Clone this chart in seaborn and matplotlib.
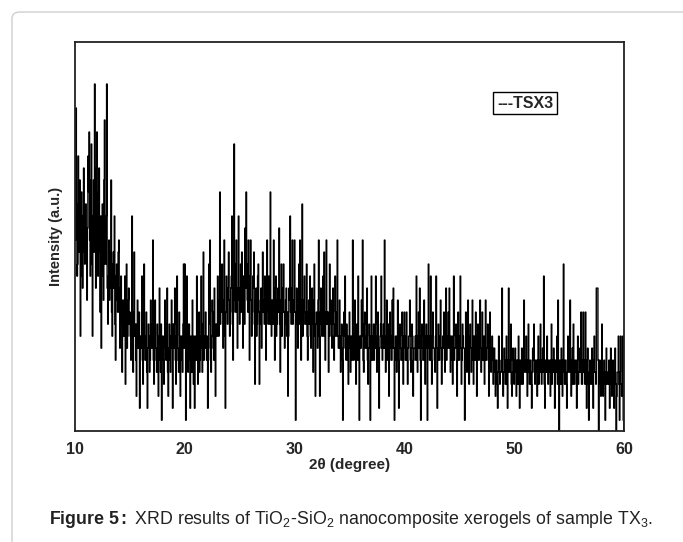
import numpy as np
import pandas as pd
import matplotlib
matplotlib.use("Agg")
import matplotlib.pyplot as plt
from matplotlib.patches import FancyBboxPatch
from matplotlib.ticker import MultipleLocator
import seaborn as sns

# scan grid of the diffractometer (2theta, degrees)
scan_start = 10.0
scan_step = 0.05

# intensity, one row per degree (arbitrary count levels)
intensity = [
    17, 15, 26, 18, 12, 13, 22, 16, 14, 20, 7, 12, 19, 17, 11, 14, 21, 16, 13, 18,   # 10
    18, 14, 10, 16, 22, 19, 24, 15, 12, 20, 23, 13, 7, 17, 20, 14, 28, 18, 11, 21,   # 11
    24, 16, 12, 19, 21, 14, 9, 17, 6, 12, 18, 15, 10, 20, 25, 13, 13, 17, 28, 11,    # 12
    8, 12, 15, 10, 11, 14, 20, 9, 7, 13, 14, 11, 17, 8, 5, 12, 13, 10, 9, 14,        # 13
    15, 9, 6, 11, 12, 8, 4, 10, 10, 7, 8, 12, 3, 9, 13, 6, 7, 10, 11, 8,             # 14
    9, 7, 5, 8, 17, 6, 4, 9, 14, 7, 8, 5, 2, 8, 10, 6, 6, 9, 1, 7,                   # 15
    7, 6, 12, 5, 3, 8, 13, 6, 5, 7, 9, 4, 1, 6, 8, 7, 4, 5, 10, 8,                   # 16
    6, 7, 15, 5, 3, 8, 10, 6, 5, 4, 8, 7, 2, 5, 11, 6, 4, 8, 0, 5,                   # 17
    7, 5, 3, 7, 10, 6, 5, 8, 11, 4, 2, 6, 8, 5, 4, 7, 10, 6, 1, 8,                   # 18
    6, 8, 11, 5, 3, 7, 12, 6, 5, 4, 9, 7, 2, 6, 7, 5, 4, 8, 13, 6,                   # 19
    13, 7, 0, 5, 12, 6, 4, 8, 8, 5, 1, 7, 6, 4, 10, 6, 3, 7, 1, 5,                   # 20
    7, 5, 12, 6, 3, 8, 9, 4, 5, 7, 12, 6, 4, 8, 14, 5, 6, 7, 9, 6,                   # 21
    5, 7, 1, 6, 13, 8, 15, 5, 4, 7, 10, 9, 6, 5, 11, 6, 2, 8, 8, 7,                  # 22
    12, 9, 7, 10, 19, 8, 9, 11, 13, 9, 6, 10, 15, 7, 1, 9, 12, 10, 8, 11,            # 23
    14, 10, 7, 9, 11, 12, 17, 8, 5, 11, 23, 10, 9, 13, 15, 9, 6, 11, 17, 10,         # 24
    8, 11, 13, 9, 14, 10, 6, 12, 12, 8, 16, 11, 19, 13, 10, 9, 15, 10, 5, 12,        # 25
    15, 10, 7, 9, 12, 11, 14, 8, 3, 10, 11, 7, 8, 12, 13, 9, 3, 8, 10, 11,           # 26
    6, 9, 14, 10, 9, 8, 12, 11, 5, 9, 15, 10, 8, 12, 11, 8, 19, 10, 7, 9,            # 27
    10, 8, 15, 9, 5, 11, 12, 7, 8, 10, 11, 9, 16, 8, 4, 10, 13, 7, 9, 11,            # 28
    13, 9, 6, 8, 10, 11, 7, 9, 2, 7, 11, 10, 17, 9, 8, 11, 15, 8, 9, 10,             # 29
    15, 9, 0, 8, 11, 10, 6, 9, 13, 8, 15, 10, 5, 9, 18, 7, 9, 10, 12, 8,             # 30
    8, 9, 13, 7, 5, 9, 10, 8, 12, 7, 6, 9, 11, 8, 4, 10, 13, 7, 2, 8,                # 31
    9, 8, 6, 10, 15, 7, 2, 9, 11, 8, 7, 10, 12, 7, 14, 9, 5, 8, 15, 9,               # 32
    8, 9, 4, 7, 13, 8, 10, 7, 6, 9, 11, 8, 5, 7, 12, 9, 7, 8, 15, 7,                 # 33
    6, 7, 10, 6, 4, 7, 8, 5, 0, 6, 9, 7, 12, 6, 5, 8, 7, 5, 3, 7,                    # 34
    9, 6, 4, 7, 7, 5, 15, 7, 5, 6, 10, 8, 3, 6, 8, 5, 12, 7, 0, 6,                   # 35
    7, 6, 10, 7, 15, 5, 4, 8, 9, 6, 6, 7, 11, 5, 3, 6, 8, 7, 0, 5,                   # 36
    12, 6, 5, 7, 8, 5, 6, 8, 12, 6, 4, 7, 9, 5, 1, 6, 7, 8, 12, 6,                   # 37
    5, 7, 8, 6, 15, 7, 4, 6, 10, 5, 6, 8, 2, 6, 9, 7, 5, 5, 10, 6,                   # 38
    11, 6, 0, 5, 7, 7, 4, 6, 10, 5, 1, 7, 8, 6, 5, 5, 9, 7, 3, 6,                    # 39
    9, 6, 5, 7, 9, 5, 3, 6, 7, 7, 10, 5, 4, 6, 8, 7, 2, 5, 6, 6,                     # 40
    7, 5, 12, 6, 4, 7, 9, 6, 11, 5, 0, 7, 8, 6, 5, 5, 10, 6, 3, 7,                   # 41
    8, 6, 0, 7, 13, 6, 5, 7, 12, 5, 3, 7, 9, 6, 6, 5, 4, 7, 12, 6,                   # 42
    1, 6, 8, 5, 5, 7, 10, 6, 3, 5, 7, 6, 9, 7, 4, 6, 11, 5, 6, 7,                    # 43
    9, 6, 11, 7, 4, 5, 7, 6, 3, 7, 12, 5, 6, 6, 8, 7, 2, 5, 9, 6,                    # 44
    5, 7, 12, 6, 3, 5, 8, 7, 6, 6, 0, 5, 9, 7, 4, 6, 10, 5, 3, 7,                    # 45
    8, 6, 4, 5, 10, 7, 3, 6, 7, 5, 9, 7, 2, 6, 8, 5, 5, 7, 10, 6,                    # 46
    4, 6, 9, 5, 6, 7, 3, 6, 10, 5, 5, 6, 8, 7, 2, 5, 9, 6, 4, 5,                     # 47
    7, 5, 3, 6, 6, 4, 2, 5, 5, 3, 1, 4, 7, 5, 3, 4, 4, 5, 11, 4,                     # 48
    2, 4, 6, 5, 3, 4, 7, 3, 1, 5, 11, 4, 4, 5, 8, 3, 2, 4, 6, 5,                     # 49
    3, 4, 6, 5, 2, 4, 5, 3, 7, 4, 1, 5, 4, 3, 6, 4, 3, 5, 10, 4,                     # 50
    4, 5, 7, 4, 2, 5, 8, 4, 3, 5, 5, 3, 1, 4, 6, 5, 8, 4, 3, 5,                      # 51
    5, 4, 2, 5, 7, 3, 4, 5, 8, 4, 3, 5, 6, 4, 12, 3, 1, 5, 5, 4,                     # 52
    7, 4, 3, 5, 5, 4, 2, 5, 8, 3, 4, 5, 6, 4, 1, 5, 5, 4, 7, 3,                      # 53
    10, 4, -1, 5, 4, 3, 6, 4, 2, 5, 13, 4, 3, 5, 5, 3, 1, 4, 7, 5,                   # 54
    4, 5, 10, 4, 2, 5, 6, 3, 8, 4, 3, 5, 5, 4, 1, 5, 7, 3, 4, 4,                     # 55
    6, 4, 9, 3, 3, 5, 9, 4, 5, 3, 9, 4, 1, 5, 6, 3, 0, 4, 5, 3,                      # 56
    3, 4, 6, 3, 1, 5, 7, 4, 4, 3, 11, 11, 11, 5, -1, 3, 5, 4, 2, 3,                  # 57
    8, 4, 2, 3, 5, 4, 0, 3, 6, 4, 3, 3, 4, 5, 1, 3, 6, 4, 2, 3,                      # 58
    5, 3, 1, 4, 6, 3, -1, 2, 4, 4, 7, 3, 0, 4, 7, 3, 2, 2, 7, 0,                     # 59
    -1,                                                                              # 60
]

two_theta = scan_start + scan_step * np.arange(len(intensity))
df = pd.DataFrame({"two_theta": two_theta, "intensity": intensity})

sns.set_style("white")
plt.rcParams['font.family'] = ['Liberation Sans', 'DejaVu Sans']
plt.rcParams['mathtext.fontset'] = 'custom'
plt.rcParams['mathtext.rm'] = 'Liberation Sans'
plt.rcParams['mathtext.bf'] = 'Liberation Sans:bold'
plt.rcParams['mathtext.it'] = 'Liberation Sans:italic'

fig = plt.figure(figsize=(6.83, 5.42), dpi=100)
W, H = 683, 542

# light rounded frame round the figure panel
frame = FancyBboxPatch((12 / W, -0.05), 1.2, 1 - 12 / H + 0.05,
                       boxstyle="round,pad=0,rounding_size=0.012",
                       transform=fig.transFigure, facecolor='white',
                       edgecolor='#cfcfcf', linewidth=1.0, zorder=-5)
fig.patches.append(frame)

ax = fig.add_axes([75 / W, 1 - 431 / H, (624 - 75) / W, (431 - 42) / H])
sns.lineplot(data=df, x="two_theta", y="intensity", ax=ax, color='black',
             linewidth=1.0, drawstyle='steps-mid', estimator=None, sort=False)

ax.set_xlim(10, 60)
ax.set_ylim(-0.9, 31.5)
ax.xaxis.set_major_locator(MultipleLocator(10))
ax.xaxis.set_minor_locator(MultipleLocator(5))
ax.set_yticks([-0.9])
ax.set_yticklabels([''])
ax.tick_params(axis='x', which='major', direction='out', length=5, width=1,
               labelsize=11.5, pad=3)
ax.tick_params(axis='x', which='minor', direction='out', length=3, width=1)
ax.tick_params(axis='y', which='major', direction='out', length=7, width=1)
for lab in ax.get_xticklabels():
    lab.set_fontweight('bold')
for sp in ax.spines.values():
    sp.set_color('#222222')
    sp.set_linewidth(1.3)

ax.set_xlabel('2θ (degree)', fontsize=11, fontweight='bold', labelpad=1)
ax.set_ylabel('Intensity (a.u.)', fontsize=10.5, fontweight='bold')
ax.yaxis.set_label_coords(-0.022, 0.5)

# legend box as in the original
fig.text(525 / W, 1 - 103 / H, '---TSX3', fontsize=11.5, fontweight='bold',
         ha='center', va='center',
         bbox=dict(boxstyle='square,pad=0.22', facecolor='white',
                   edgecolor='black', linewidth=1))

fig.text(49 / W, 1 - 520 / H,
         r'$\mathbf{Figure\ 5{:}}$ XRD results of TiO$_2$-SiO$_2$ nanocomposite xerogels of sample TX$_3$.',
         fontsize=12.8, color='#222222', ha='left', va='center')

fig.savefig('out.png', dpi=100, facecolor='white')
